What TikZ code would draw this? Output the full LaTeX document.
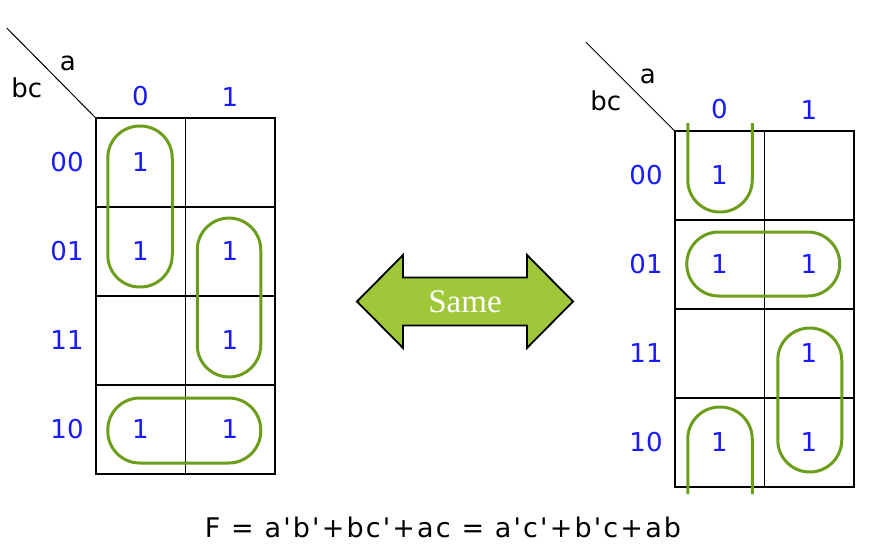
\documentclass[tikz,border=0pt]{standalone}
\usepackage{fontspec}
\setmainfont{DejaVu Sans}[Ligatures=TeXOff]
\newfontfamily\samefont{Liberation Serif}
\newfontfamily\eqfont{DejaVu Sans}[Ligatures=TeXOff, LetterSpace=8]
\usetikzlibrary{positioning,calc}
\definecolor{kblue}{RGB}{25,25,250}
\definecolor{kgreen}{RGB}{108,158,28}
\definecolor{kfill}{RGB}{158,200,58}
\begin{document}
\begin{tikzpicture}[
    x=1pt, y=-1pt,
    cell/.style={rectangle, draw, line width=1.5pt, minimum width=89.5pt, minimum height=89pt, inner sep=0pt, outer sep=0pt, text=kblue, font=\fontsize{26}{26}\selectfont},
    lbl/.style={inner sep=0pt, text=kblue, font=\fontsize{26}{26}\selectfont},
    var/.style={inner sep=0pt, font=\fontsize{26}{26}\selectfont},
    group/.style={draw=kgreen, line width=3pt, rounded corners=32pt},
    samearrow/.style={draw, line width=1.8pt, fill=kfill}
]
\useasboundingbox (0,0) rectangle (893,551);

% left map
\node[cell] (L11) at (140.5,162.5) {1};
\node[cell, right=0pt of L11] (L12) {};
\node[cell, below=0pt of L11] (L21) {1};
\node[cell, right=0pt of L21] (L22) {1};
\node[cell, below=0pt of L21] (L31) {};
\node[cell, right=0pt of L31] (L32) {1};
\node[cell, below=0pt of L31] (L41) {1};
\node[cell, right=0pt of L41] (L42) {1};

\node[lbl, above=11.5pt of L11] (lc0) {0};
\node[lbl, above=11.5pt of L12] (lc1) {1};
\node[lbl, left=12pt of L11] (lr1) {00};
\node[lbl, left=12pt of L21] (lr2) {01};
\node[lbl, left=12pt of L31] (lr3) {11};
\node[lbl, left=12pt of L41] (lr4) {10};

\coordinate (lend) at ($(L11.north west)+(-89,-90)$);
\draw[line width=1pt] (L11.north west) -- (lend);
\node[var] (la) at ($(L11.north west)+(-28,-55)$) {a};
\node[var] (lbc) at ($(L11.north west)+(-69,-30)$) {bc};

\draw[group] ($(L11.north west)+(12,8)$) rectangle ($(L21.south east)+(-13,-9)$);
\draw[group] ($(L22.north west)+(12,11)$) rectangle ($(L32.south east)+(-14,-8)$);
\draw[group] ($(L41.north west)+(12,13)$) rectangle ($(L42.south east)+(-14,-11)$);

% right map
\node[cell] (R11) at (719.5,175.5) {1};
\node[cell, right=0pt of R11] (R12) {};
\node[cell, below=0pt of R11] (R21) {1};
\node[cell, right=0pt of R21] (R22) {1};
\node[cell, below=0pt of R21] (R31) {};
\node[cell, right=0pt of R31] (R32) {1};
\node[cell, below=0pt of R31] (R41) {1};
\node[cell, right=0pt of R41] (R42) {1};

\node[lbl, above=11.5pt of R11] (rc0) {0};
\node[lbl, above=11.5pt of R12] (rc1) {1};
\node[lbl, left=12pt of R11] (rr1) {00};
\node[lbl, left=12pt of R21] (rr2) {01};
\node[lbl, left=12pt of R31] (rr3) {11};
\node[lbl, left=12pt of R41] (rr4) {10};

\coordinate (rend) at ($(R11.north west)+(-89,-89)$);
\draw[line width=1pt] (R11.north west) -- (rend);
\node[var] (ra) at ($(R11.north west)+(-27,-55)$) {a};
\node[var] (rbc) at ($(R11.north west)+(-69,-30)$) {bc};

\draw[group] ($(R11.north west)+(13,-8)$) -- ($(R11.south west)+(13,-8)$)
    -- ($(R11.south east)+(-12,-8)$) -- ($(R11.north east)+(-12,-8)$);
\draw[group] ($(R21.north west)+(12,12)$) rectangle ($(R22.south east)+(-14,-13)$);
\draw[group] ($(R32.north west)+(13.5,19)$) rectangle ($(R42.south east)+(-12,-15)$);
\draw[group] ($(R41.south west)+(13,7)$) -- ($(R41.north west)+(13,9)$)
    -- ($(R41.north east)+(-12,9)$) -- ($(R41.south east)+(-12,7)$);

% arrow between the maps
\coordinate (mid) at (465,301.5);
\begin{scope}[shift={(mid)}]
\draw[samearrow] (-108,0) -- (-62,-46.5) -- (-62,-24) -- (62,-24) -- (62,-46.5)
    -- (108,0) -- (62,46.5) -- (62,24) -- (-62,24) -- (-62,46.5) -- cycle;
\end{scope}
\node[text=white, font=\samefont\fontsize{33}{33}\selectfont] (same) at (mid) {Same};

\node[font=\eqfont\fontsize{27}{27}\selectfont] (eq) at (443,527) {F = a'b'+bc'+ac = a'c'+b'c+ab};
\end{tikzpicture}
\end{document}
